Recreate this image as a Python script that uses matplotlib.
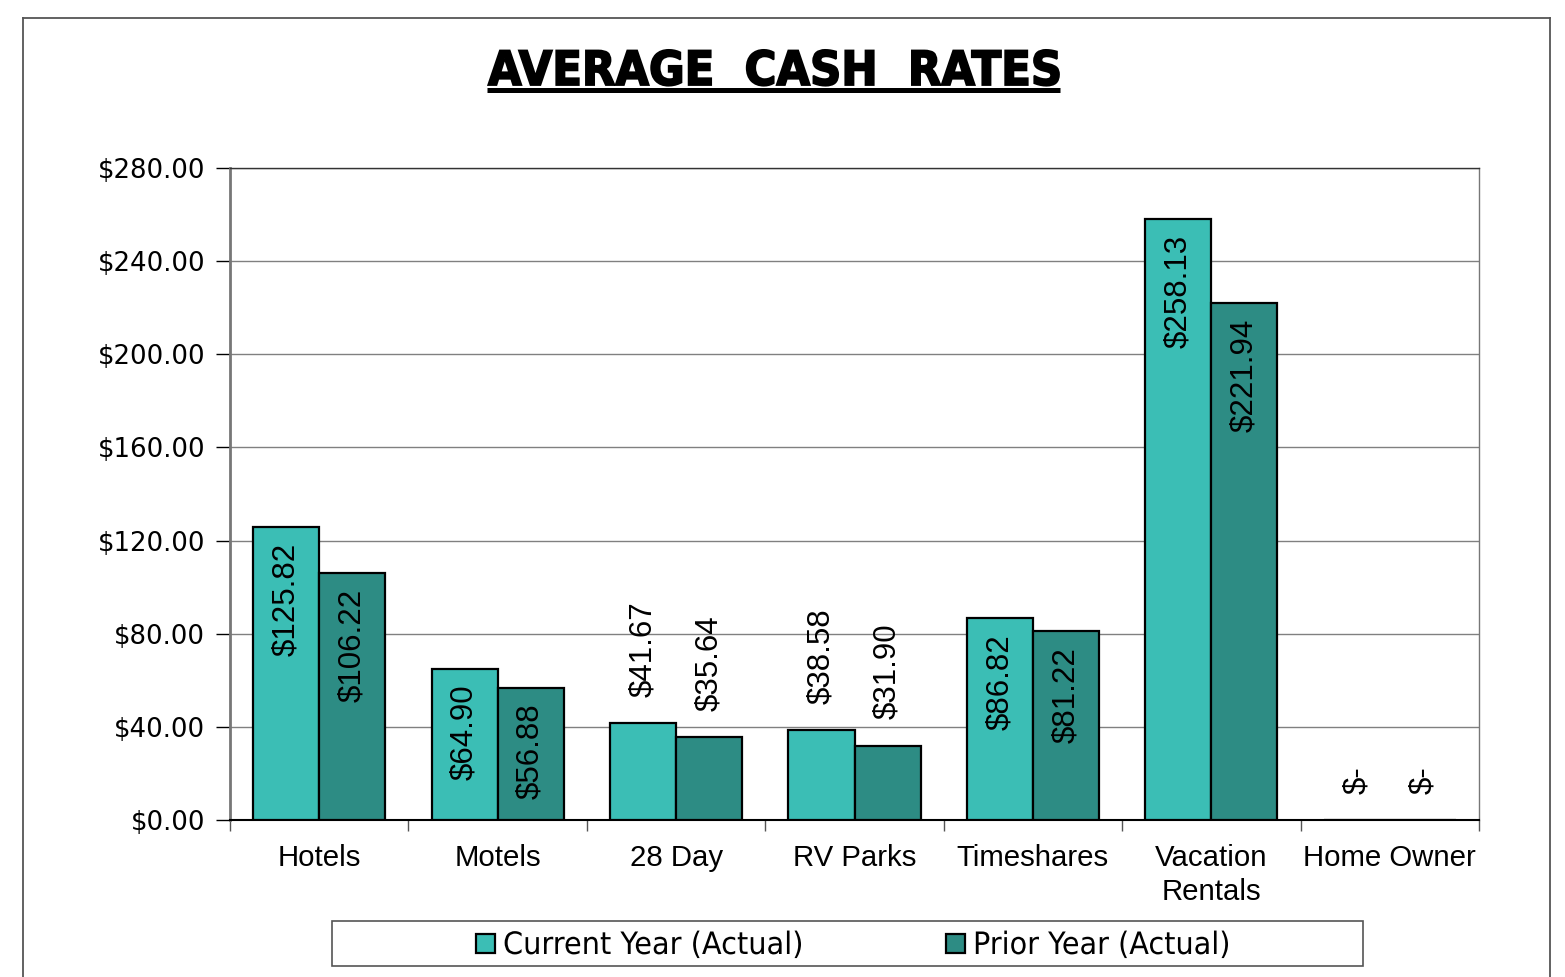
import matplotlib
matplotlib.use("Agg")
import matplotlib.pyplot as plt
from matplotlib.lines import Line2D
from matplotlib.patches import Rectangle, PathPatch
from matplotlib.textpath import TextPath
from matplotlib.font_manager import FontProperties
from matplotlib.transforms import Affine2D
import numpy as np

categories = ["Hotels", "Motels", "28 Day", "RV Parks", "Timeshares", "Vacation\nRentals", "Home Owner"]
current_year = [125.82, 64.90, 41.67, 38.58, 86.82, 258.13, 0.0]
prior_year = [106.22, 56.88, 35.64, 31.90, 81.22, 221.94, 0.0]
series_names = ["Current Year (Actual)", "Prior Year (Actual)"]
y_ticks = [0, 40, 80, 120, 160, 200, 240, 280]

c_cur = "#3bbeb5"
c_pri = "#2d8c84"

W, H = 1565, 977
fig = plt.figure(figsize=(W / 100, H / 100), dpi=100)
fig.patch.set_facecolor("white")


def px(x, y):
    return x / W, (H - y) / H


def fitted_text(s, x0, x1, baseline, cap_h, weight="normal", color="black", stroke=0.0):
    """Draw text as a path, stretched to span x0..x1 (pixels) with given cap height."""
    prop = FontProperties(family="DejaVu Sans", weight=weight)
    tp = TextPath((0, 0), s, size=100, prop=prop)
    v = tp.vertices
    xmin, xmax = v[:, 0].min(), v[:, 0].max()
    sx = (x1 - x0) / (xmax - xmin)
    sy = cap_h / 72.9
    tr = (Affine2D().translate(-xmin, 0).scale(sx, sy).translate(x0, H - baseline)
          .scale(1 / W, 1 / H) + fig.transFigure)
    fig.add_artist(PathPatch(tp, facecolor=color, edgecolor=color if stroke else "none",
                             lw=stroke, transform=tr))


# outer chart border (top, left, right)
border_kw = dict(color="#555555", lw=1.3, transform=fig.transFigure)
fig.add_artist(Line2D([px(23, 0)[0], px(1550, 0)[0]], [px(0, 18)[1]] * 2, **border_kw))
fig.add_artist(Line2D([px(23, 0)[0]] * 2, [px(0, 18)[1], 0], **border_kw))
fig.add_artist(Line2D([px(1550, 0)[0]] * 2, [px(0, 18)[1], 0], **border_kw))

l, b = px(230, 820)
r, t = px(1479, 168)
ax = fig.add_axes([l, b, r - l, t - b])

x = np.arange(len(categories))
bw = 0.37
ax.bar(x - bw / 2, current_year, bw, color=c_cur, edgecolor="black", linewidth=1.6, zorder=3)
ax.bar(x + bw / 2, prior_year, bw, color=c_pri, edgecolor="black", linewidth=1.6, zorder=3)

ax.set_xlim(-0.5, len(categories) - 0.5)
ax.set_ylim(0, 280)
ax.set_yticks(y_ticks)
ax.set_yticklabels([f"${v:.2f}" for v in y_ticks], fontsize=18.7, family="DejaVu Sans")
ax.yaxis.grid(True, color="#808080", lw=1.0, zorder=0)
ax.set_axisbelow(True)

ax.set_xticks(x)
ax.set_xticklabels(categories, fontsize=21.2, family=["Liberation Sans", "DejaVu Sans"], linespacing=1.27)
ax.tick_params(axis="x", which="major", length=0, pad=17.0)
ax.set_xticks(np.arange(len(categories) + 1) - 0.5, minor=True)
ax.tick_params(axis="x", which="minor", length=8, width=1.0, color="#555555", direction="out")
ax.tick_params(axis="y", length=10, width=1.0, direction="out", pad=8)

ax.spines["left"].set_color("#777777")
ax.spines["left"].set_linewidth(2.0)
ax.spines["bottom"].set_color("black")
ax.spines["bottom"].set_linewidth(1.5)
ax.spines["top"].set_color("#333333")
ax.spines["top"].set_linewidth(1.0)
ax.spines["right"].set_color("#777777")
ax.spines["right"].set_linewidth(1.0)


def label(v):
    return "$-" if v == 0 else f"${v:,.2f}"


for xs, vals in ((x - bw / 2, current_year), (x + bw / 2, prior_year)):
    for xi, v in zip(xs, vals):
        if v > 50:
            ax.annotate(label(v), (xi, v), xytext=(0, -11.5), textcoords="offset points",
                        rotation=90, ha="center", va="top", fontsize=22.5,
                        family=["Liberation Sans", "DejaVu Sans"], zorder=5)
        else:
            ax.annotate(label(v), (xi, v), xytext=(0, 19), textcoords="offset points",
                        rotation=90, ha="center", va="bottom", fontsize=22.5,
                        family=["Liberation Sans", "DejaVu Sans"], zorder=5)

# title with underline
fitted_text("AVERAGE  CASH  RATES", 488, 1059, 85, 34.5, weight="bold", stroke=1.3)
fig.add_artist(Line2D([487 / W, 1060 / W], [(H - 89.5) / H] * 2, color="black", lw=3.6,
                      transform=fig.transFigure, solid_capstyle="butt"))

# legend
lx0, ly0 = px(332, 966)
lx1, ly1 = px(1363, 921)
fig.add_artist(Rectangle((lx0, ly0), lx1 - lx0, ly1 - ly0, transform=fig.transFigure,
                         facecolor="white", edgecolor="#555555", lw=1.2))
legend_items = [(c_cur, 475, 503, 801), (c_pri, 945, 973, 1228)]
for (col, sq_x, tx0, tx1), name in zip(legend_items, series_names):
    sx0, sy0 = px(sq_x + 1, 953)
    fig.add_artist(Rectangle((sx0, sy0), 19 / W, 19 / H, transform=fig.transFigure,
                             facecolor=col, edgecolor="black", lw=1.6))
    fitted_text(name, tx0, tx1, 954, 22.5)

fig.savefig("out.png", dpi=100, facecolor="white")
